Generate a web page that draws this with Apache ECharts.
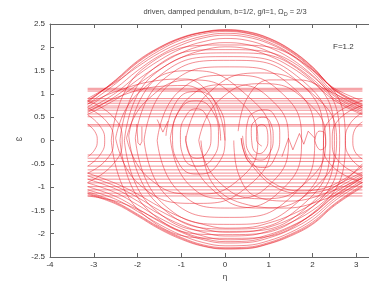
<!DOCTYPE html>
<html>
<head>
<meta charset="utf-8">
<script src="https://cdn.jsdelivr.net/npm/echarts@6/dist/echarts.min.js"></script>
<style>
  html, body { margin: 0; padding: 0; background: #fff; }
  #chart { width: 369px; height: 283px; }
</style>
</head>
<body>
<div id="chart"></div>
<script>
const etaGrid = [-3.14, -2.5, -2, -1.5, -1, -0.5, 0, 0.5, 1, 1.5, 2, 2.5, 3.14];

// rotating arcs on top (omega at each etaGrid point)
const topArcs = [
  [0.82, 1.30, 1.71, 2.00, 2.21, 2.33, 2.38, 2.34, 2.20, 1.95, 1.58, 1.08, 0.74],
  [0.86, 1.27, 1.67, 1.97, 2.19, 2.32, 2.36, 2.31, 2.17, 1.92, 1.55, 1.10, 0.78],
  [0.78, 1.22, 1.62, 1.93, 2.16, 2.29, 2.34, 2.30, 2.15, 1.90, 1.52, 1.02, 0.70],
  [0.90, 1.25, 1.58, 1.88, 2.10, 2.24, 2.30, 2.26, 2.11, 1.86, 1.50, 1.12, 0.85],
  [0.72, 1.12, 1.50, 1.82, 2.05, 2.20, 2.26, 2.22, 2.08, 1.84, 1.46, 0.98, 0.66],
  [0.66, 1.02, 1.40, 1.72, 1.97, 2.12, 2.19, 2.15, 2.00, 1.76, 1.40, 0.95, 0.62],
  [0.60, 0.95, 1.30, 1.62, 1.88, 2.04, 2.10, 2.06, 1.91, 1.66, 1.32, 0.90, 0.58],
  [0.56, 0.88, 1.20, 1.52, 1.78, 1.94, 2.01, 1.97, 1.82, 1.58, 1.25, 0.86, 0.55],
  [0.84, 1.29, 1.69, 1.99, 2.20, 2.32, 2.37, 2.33, 2.19, 1.94, 1.57, 1.09, 0.76]
];

// rotating arcs on the bottom
const bottomArcs = [
  [-1.15, -1.36, -1.62, -1.90, -2.12, -2.27, -2.33, -2.32, -2.22, -2.05, -1.80, -1.40, -1.00],
  [-1.10, -1.32, -1.58, -1.86, -2.08, -2.24, -2.30, -2.29, -2.19, -2.01, -1.75, -1.36, -0.95],
  [-1.06, -1.26, -1.52, -1.80, -2.03, -2.19, -2.26, -2.25, -2.15, -1.97, -1.70, -1.30, -0.90],
  [-0.99, -1.20, -1.46, -1.74, -1.97, -2.13, -2.20, -2.19, -2.09, -1.91, -1.64, -1.25, -0.85],
  [-0.91, -1.12, -1.38, -1.66, -1.89, -2.05, -2.13, -2.12, -2.02, -1.84, -1.58, -1.20, -0.80],
  [-0.83, -1.04, -1.30, -1.58, -1.81, -1.97, -2.05, -2.04, -1.94, -1.76, -1.50, -1.13, -0.76],
  [-0.76, -0.98, -1.22, -1.50, -1.73, -1.89, -1.97, -1.96, -1.86, -1.68, -1.42, -1.06, -0.72],
  [-0.70, -0.92, -1.15, -1.42, -1.65, -1.80, -1.88, -1.87, -1.77, -1.60, -1.35, -1.00, -0.68],
  [-1.19, -1.30, -1.48, -1.72, -1.95, -2.10, -2.17, -2.16, -2.05, -1.86, -1.58, -1.18, -0.80],
  [-1.13, -1.34, -1.60, -1.88, -2.10, -2.26, -2.32, -2.31, -2.21, -2.03, -1.78, -1.38, -0.98]
];

// omega of the wrap-around jumps from +pi to -pi
const wrapLevels = [1.12, 1.09, 1.06, 0.90, 0.85, 0.80, 0.74, 0.70, 0.65, 0.57, 0.51, 0.34, 0.31,
  -0.31, -0.38, -0.45, -0.55, -0.63, -0.70, -0.76, -0.83, -0.91, -0.99, -1.06, -1.13, -1.19];

// libration loops
const loops = [
  [[-2.3, 0], [-1.65, 1.4], [0.1, 1.88], [1.85, 1.4], [2.5, 0], [1.85, -1.45], [0.1, -1.95], [-1.65, -1.45], [-2.3, 0]],
  [[-2.05, 0.05], [-1.45, 1.28], [0.1, 1.72], [1.65, 1.28], [2.25, 0], [1.65, -1.33], [0.1, -1.8], [-1.45, -1.33], [-2.05, 0.05]],
  [[-1.85, 0], [-1.3, 1.18], [0.1, 1.58], [1.5, 1.18], [2.05, 0], [1.5, -1.22], [0.1, -1.65], [-1.3, -1.22], [-1.85, 0]],
  [[-2.6, 0], [-1.9, 1.52], [0.05, 2.05], [2.0, 1.52], [2.75, 0], [2.0, -1.56], [0.05, -2.1], [-1.9, -1.56], [-2.6, 0]],
  [[-1.55, 0], [-1.07, 1.04], [0.1, 1.4], [1.27, 1.04], [1.75, 0], [1.27, -1.08], [0.1, -1.45], [-1.07, -1.08], [-1.55, 0]],
  [[-2.2, 0.1], [-1.55, 1.35], [0.05, 1.8], [1.75, 1.3], [2.4, -0.05], [1.75, -1.4], [0.1, -1.9], [-1.55, -1.35], [-2.2, 0.1]],
  [[-1.25, 0.05], [-0.85, 0.9], [0.1, 1.2], [1.05, 0.88], [1.45, 0], [1.05, -0.92], [0.1, -1.25], [-0.85, -0.92], [-1.25, 0.05]],
  [[-2.5, 0.05], [-2.0, 1.0], [-0.8, 1.5], [0.4, 1.05], [1.05, 0], [0.5, -1.0], [-0.7, -1.35], [-1.95, -0.95], [-2.5, 0.05]],
  [[-2.25, 0.05], [-1.8, 0.85], [-0.75, 1.3], [0.25, 0.92], [0.75, 0], [0.3, -0.85], [-0.7, -1.15], [-1.75, -0.8], [-2.25, 0.05]],
  [[-0.9, 0], [-0.4, 1.0], [0.8, 1.45], [2.0, 1.0], [2.55, 0], [2.0, -1.05], [0.8, -1.45], [-0.35, -1.0], [-0.9, 0]],
  [[-0.6, 0], [-0.15, 0.85], [0.85, 1.22], [1.85, 0.85], [2.3, 0], [1.85, -0.9], [0.85, -1.25], [-0.15, -0.88], [-0.6, 0]],
  [[-2.4, 0], [-1.75, 1.45], [0.0, 1.95], [1.9, 1.45], [2.62, 0], [1.9, -1.5], [0.0, -2.02], [-1.75, -1.5], [-2.4, 0]]
];

// spiral around the left attractor
const spiralLeft = [[-1.35, 0.1], [-1.1, 0.85], [-0.65, 1.05], [-0.2, 0.8], [0.0, 0.1], [-0.2, -0.55], [-0.65, -0.72],
  [-1.05, -0.5], [-1.2, 0.1], [-1.0, 0.7], [-0.65, 0.85], [-0.3, 0.65], [-0.15, 0.1], [-0.3, -0.4], [-0.65, -0.55],
  [-0.95, -0.35], [-1.02, 0.1], [-0.88, 0.55], [-0.65, 0.68], [-0.42, 0.52], [-0.32, 0.1], [-0.43, -0.28],
  [-0.65, -0.38], [-0.85, -0.22], [-0.9, 0.1]];

// spiral around the right attractor
const spiralRight = [[0.84, -0.12], [0.72, 0.02], [0.72, 0.25], [0.84, 0.34], [0.96, 0.24], [0.98, 0.0], [0.9, -0.22],
  [0.78, -0.28], [0.62, -0.1], [0.6, 0.25], [0.72, 0.45], [0.88, 0.5], [1.04, 0.38], [1.1, 0.05], [1.0, -0.3],
  [0.82, -0.42], [0.58, -0.3], [0.48, 0.05], [0.52, 0.42], [0.7, 0.62], [0.92, 0.66], [1.15, 0.5], [1.25, 0.1],
  [1.15, -0.35], [0.9, -0.58], [0.6, -0.5], [0.42, -0.2], [0.37, 0.05]];

// arm leaving the right spiral, and humps feeding the spirals
const arms = [
  [[0.37, 0.05], [0.45, -0.3], [0.6, -0.52], [1.06, -0.95], [1.67, -1.13], [2.2, -1.09], [2.7, -0.88], [2.97, -0.66], [3.14, -0.5]],
  [[0.4, 0.1], [0.48, -0.28], [0.64, -0.5], [1.08, -0.9], [1.68, -1.08], [2.2, -1.04], [2.7, -0.84], [3.14, -0.55]],
  [[-3.14, 0.78], [-2.5, 1.05], [-1.6, 1.28], [-0.9, 1.32], [-0.4, 1.05], [-0.1, 0.5], [0.0, 0.0]],
  [[-3.14, 0.62], [-2.4, 0.95], [-1.6, 1.15], [-0.9, 1.18], [-0.4, 0.92], [-0.15, 0.4], [-0.1, 0.0]],
  [[0.3, 0.2], [0.5, 0.9], [1.0, 1.3], [1.7, 1.3], [2.4, 1.05], [3.14, 0.7]],
  [[3.14, -0.8], [2.4, -1.1], [1.5, -1.3], [0.7, -1.2], [0.3, -0.7], [0.2, 0.0]],
  [[3.14, -0.9], [2.3, -1.25], [1.4, -1.45], [0.4, -1.35], [-0.3, -0.9], [-0.55, 0.0]]
];

// turning points near the left and right edges
const edgeLeft = [
  [[-3.14, 0.55], [-2.85, 0.3], [-2.75, 0], [-2.85, -0.3], [-3.14, -0.55]],
  [[-3.14, 0.7], [-2.7, 0.4], [-2.55, 0], [-2.7, -0.4], [-3.14, -0.7]],
  [[-3.14, 0.35], [-2.95, 0.15], [-2.92, 0], [-2.98, -0.2], [-3.14, -0.35]],
  [[-3.14, 0.85], [-2.55, 0.5], [-2.35, 0], [-2.55, -0.5], [-3.14, -0.9]]
];
const edgeRight = [
  [[3.14, 0.6], [2.85, 0.35], [2.75, 0], [2.85, -0.35], [3.14, -0.6]],
  [[3.14, 0.75], [2.6, 0.45], [2.45, 0], [2.6, -0.45], [3.14, -0.75]],
  [[3.14, 0.4], [2.95, 0.2], [2.92, 0], [2.95, -0.2], [3.14, -0.4]],
  [[3.14, 0.85], [2.45, 0.5], [2.25, -0.05], [2.45, -0.55], [3.14, -0.9]],
  [[2.05, 0.0], [2.15, 0.2], [2.28, 0.15], [2.3, -0.1], [2.18, -0.2], [2.05, 0.0]]
];

// small cusps and kinks
const cusps = [
  [[-1.55, 0.45], [-1.42, 0.18], [-1.3, 0.42]],
  [[-2.02, 0.35], [-1.99, -0.05], [-1.94, -0.1], [-1.9, -0.02], [-1.9, 0.3]],
  [[1.3, -0.35], [1.45, 0.05], [1.55, -0.2], [1.7, 0.15], [1.8, -0.08], [1.9, 0.2], [2.05, 0.05]]
];

const chart = echarts.init(document.getElementById('chart'));
const red = 'rgba(230, 25, 35, 0.55)';
const font = 'Liberation Sans';

function curve(data, smooth) {
  return {
    type: 'line',
    data: data,
    showSymbol: false,
    smooth: smooth,
    silent: true,
    lineStyle: { color: red, width: 0.9 }
  };
}

const series = [];
wrapLevels.forEach(w => series.push(curve([[-3.14, w], [3.14, w]], false)));
topArcs.concat(bottomArcs).forEach(arc => series.push(curve(etaGrid.map((e, i) => [e, arc[i]]), 0.4)));
loops.forEach(l => series.push(curve(l, 0.5)));
series.push(curve(spiralLeft, 0.5));
series.push(curve(spiralRight, 0.5));
arms.forEach(a => series.push(curve(a, 0.4)));
edgeLeft.concat(edgeRight).forEach(e => series.push(curve(e, 0.5)));
cusps.forEach(c => series.push(curve(c, false)));

const axisCommon = {
  type: 'value',
  axisLine: { onZero: false, lineStyle: { color: '#666', width: 1 } },
  axisTick: { inside: true, length: 4, lineStyle: { color: '#666' } },
  splitLine: { show: false }
};

// the picture is cut at the right, so the x axis stops a little past 3
chart.setOption({
  animation: false,
  grid: { left: 50, right: 0, top: 24, bottom: 26 },
  xAxis: [
    Object.assign({}, axisCommon, {
      position: 'bottom', min: -4, max: 3.29, interval: 1,
      axisLabel: { fontFamily: font, fontSize: 8, color: '#333', margin: 4, showMaxLabel: false }
    }),
    Object.assign({}, axisCommon, {
      position: 'top', min: -4, max: 3.29, interval: 1,
      axisLabel: { show: false }
    })
  ],
  yAxis: Object.assign({}, axisCommon, {
    min: -2.5, max: 2.5, interval: 0.5,
    axisLabel: { fontFamily: font, fontSize: 8, color: '#333', margin: 5 }
  }),
  graphic: [
    {
      type: 'text', x: 225, y: 12,
      style: {
        text: '{t|driven, damped pendulum, b=1/2, g/l=1, Ω}{s|D}{t| = 2/3}',
        align: 'center', verticalAlign: 'middle',
        rich: {
          t: { fontFamily: font, fontSize: 7.5, fill: '#444' },
          s: { fontFamily: font, fontSize: 5.5, fill: '#444', padding: [4, 0, 0, 0] }
        }
      }
    },
    { type: 'text', x: 333, y: 47, style: { text: 'F=1.2', font: '8px ' + font, fill: '#333', verticalAlign: 'middle' } },
    { type: 'text', x: 225, y: 277, style: { text: 'η', font: '8px ' + font, fill: '#333', align: 'center', verticalAlign: 'middle' } },
    { type: 'text', x: 19, y: 139, style: { text: 'ω', font: '8px ' + font, fill: '#333', align: 'center', verticalAlign: 'middle' } }
  ],
  series: series
});
</script>
</body>
</html>
